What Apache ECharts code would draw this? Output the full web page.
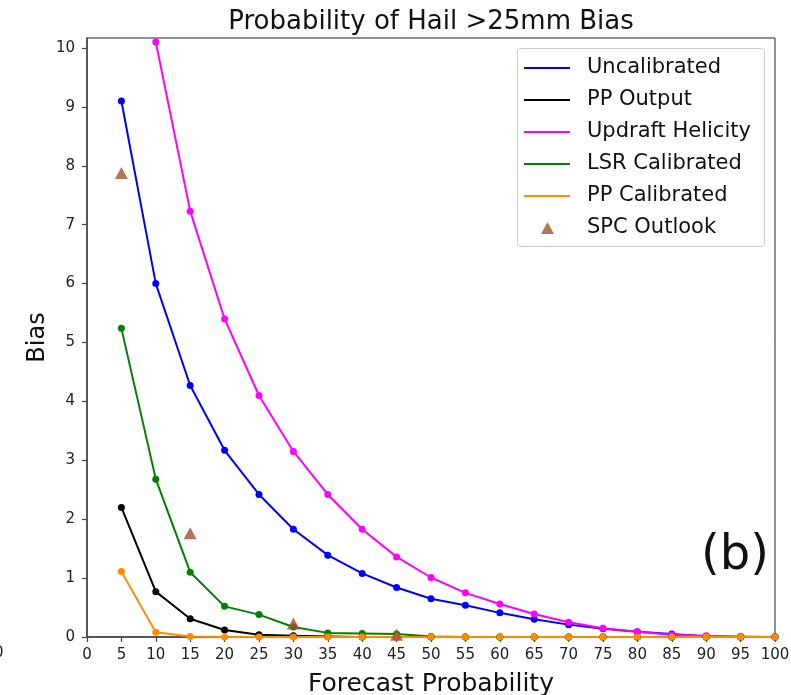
<!DOCTYPE html>
<html><head><meta charset="utf-8">
<script src="https://cdn.jsdelivr.net/npm/echarts@6/dist/echarts.min.js"></script>
<style>html,body{margin:0;padding:0;background:#fff}#c{width:791px;height:695px}</style>
</head><body><div id="c"></div>
<script>
const probs = [5,10,15,20,25,30,35,40,45,50,55,60,65,70,75,80,85,90,95,100];
const uncalibrated = [9.1,6.0,4.27,3.17,2.42,1.83,1.39,1.08,0.84,0.65,0.54,0.41,0.30,0.21,0.14,0.09,0.05,0.01,0,0];
const ppOutput = [2.2,0.77,0.31,0.12,0.04,0.02,0.01,0,0,0,0,0,0,0,0,0,0,0,0,0];
const updraftHelicity = [null,10.1,7.23,5.4,4.1,3.15,2.42,1.83,1.36,1.01,0.75,0.56,0.39,0.25,0.15,0.09,0.04,0.02,0.01,0];
const lsrCalibrated = [5.24,2.68,1.1,0.52,0.38,0.17,0.07,0.06,0.05,0.01,0,0,0,0,0,0,0,0,0,0];
const ppCalibrated = [1.11,0.08,0.01,0,0,0,0,0,0,0,0,0,0,0,0,0,0,0,0,0];
const spcProbs = [5,15,30,45];
const spcOutlook = [7.88,1.76,0.23,0.04];
const xTicks = [0,5,10,15,20,25,30,35,40,45,50,55,60,65,70,75,80,85,90,95,100];
const yTicks = [0,1,2,3,4,5,6,7,8,9,10];

const FONT = 'DejaVu Sans';
const pair = (xs, ys) => xs.map((x,i)=>[x, ys[i]]).filter(p=>p[1]!==null);
const lineSeries = (name, data, color) => ({
  name, type:'line', data: pair(probs, data),
  symbol:'circle', symbolSize:7, showSymbol:true,
  lineStyle:{color, width:2}, itemStyle:{color}, animation:false
});

const chart = echarts.init(document.getElementById('c'), null, {renderer:'canvas'});
chart.setOption({
  animation:false,
  textStyle:{fontFamily:FONT},
  grid:{left:87, right:16, top:38, bottom:58, outerBoundsMode:'none', containLabel:false,
    show:true, borderColor:'#222', borderWidth:1, backgroundColor:'transparent'},
  xAxis:{type:'value', min:0, max:100, interval:5,
    axisLine:{show:true, lineStyle:{color:'#444', width:1.5}},
    axisTick:{show:true, inside:false, length:5, lineStyle:{color:'#444', width:1.2}},
    axisLabel:{color:'#222', fontSize:15, fontFamily:FONT, margin:11,
      formatter:v=> xTicks.includes(v)? String(v):''},
    splitLine:{show:false},
    name:'Forecast Probability', nameLocation:'middle', nameGap:35,
    nameTextStyle:{fontSize:25, color:'#111', fontFamily:FONT}},
  yAxis:{type:'value', min:0, max:10.17, interval:1,
    axisLine:{show:true, lineStyle:{color:'#444', width:1.5}},
    axisTick:{show:true, inside:false, length:5, lineStyle:{color:'#444', width:1.2}},
    axisLabel:{color:'#222', fontSize:15, fontFamily:FONT, margin:12,
      formatter:v=> yTicks.includes(v)? String(v):'', showMaxLabel:false},
    splitLine:{show:false},
    name:'Bias', nameLocation:'middle', nameGap:37, nameMoveOverlap:false,
    nameTextStyle:{fontSize:24, color:'#111', fontFamily:FONT}},
  legend:[{
    orient:'vertical', left:524, top:57.5, padding:0, itemWidth:46, itemHeight:2, itemGap:11, icon:'rect',
    textStyle:{fontSize:21, fontFamily:FONT, color:'#111', lineHeight:21, padding:[0,0,0,12]},
    data:['Uncalibrated','PP Output','Updraft Helicity','LSR Calibrated','PP Calibrated']
  },{
    orient:'vertical', left:541, top:217.5, padding:0, itemWidth:13, itemHeight:12, icon:'triangle',
    textStyle:{fontSize:21, fontFamily:FONT, color:'#111', lineHeight:21, padding:[0,0,0,28]},
    data:['SPC Outlook']
  }],
  graphic:[
    {type:'text', position:[431,9], style:{text:'Probability of Hail >25mm Bias', font:'26px "DejaVu Sans"', fill:'#111', textAlign:'center'}},
    {type:'rect', shape:{x:517.5, y:48.5, width:247, height:198, r:3}, style:{fill:'rgba(255,255,255,0.8)', stroke:'#ccc', lineWidth:1}, z:-1},
    {type:'text', position:[769,533], style:{text:'(b)', font:'48px "DejaVu Sans"', fill:'#111', textAlign:'right'}},
    {type:'text', position:[-6,646], style:{text:'0', font:'15px "DejaVu Sans"', fill:'#222'}}
  ],
  series:[
    lineSeries('Uncalibrated', uncalibrated, '#0000ff'),
    lineSeries('PP Output', ppOutput, '#000000'),
    lineSeries('Updraft Helicity', updraftHelicity, '#ff00ff'),
    lineSeries('LSR Calibrated', lsrCalibrated, '#008000'),
    lineSeries('PP Calibrated', ppCalibrated, '#ff8c00'),
    {name:'SPC Outlook', type:'scatter', data: pair(spcProbs, spcOutlook), symbol:'triangle', symbolSize:[13,12],
      itemStyle:{color:'#a0522d'}, z:5}
  ]
});
</script></body></html>
